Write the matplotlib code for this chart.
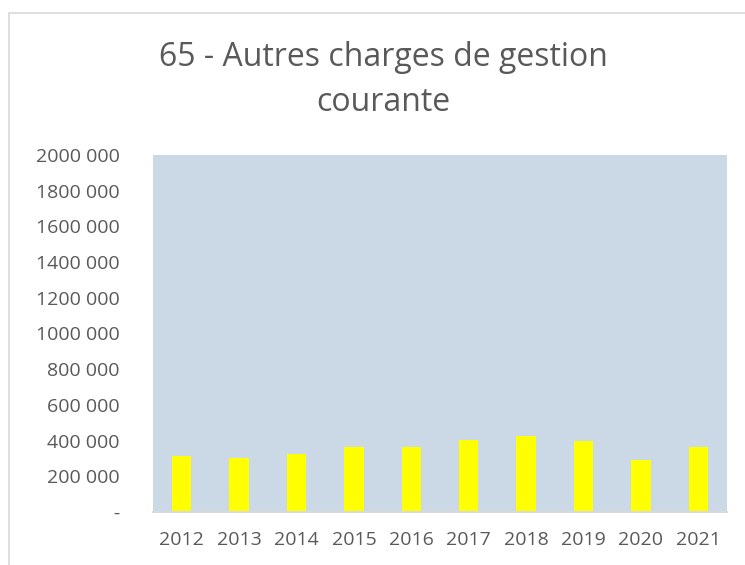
import matplotlib
matplotlib.use("Agg")
import matplotlib.pyplot as plt
from matplotlib.patches import Rectangle

plt.rcParams['font.family'] = ['Open Sans', 'DejaVu Sans']

# data
years = ['2012', '2013', '2014', '2015', '2016', '2017', '2018', '2019', '2020', '2021']
charges = [316000, 305000, 323000, 366000, 366000, 406000, 427000, 397000, 294000, 362000]
ytick_vals = list(range(0, 2000001, 200000))
ytick_labels = ['-', '200 000', '400 000', '600 000', '800 000', '1000 000',
                '1200 000', '1400 000', '1600 000', '1800 000', '2000 000']

W, H = 745, 565
fig = plt.figure(figsize=(W / 100, H / 100), dpi=100)

# outer chart border
fig.patches.append(Rectangle((9 / W, -0.1), 1.0, 1 - 13 / H + 0.1, transform=fig.transFigure,
                             fill=False, edgecolor='#D9D9D9', linewidth=1.2))

ax = fig.add_axes([153 / W, 1 - 512 / H, (727 - 153) / W, (512 - 155) / H])
ax.set_facecolor('#CBD9E6')

x = range(len(years))
ax.bar(x, charges, width=0.34, color='#FFFF00')

ax.set_xlim(-0.5, len(years) - 0.5)
ax.set_ylim(0, 2000000)
ax.set_xticks(list(x))
ax.set_xticklabels(years)
ax.set_yticks(ytick_vals)
ax.set_yticklabels(ytick_labels)
ax.tick_params(axis='both', length=0, labelsize=14, colors='#595959')
ax.tick_params(axis='x', pad=14)
ax.tick_params(axis='y', pad=24)

for s in ['top', 'right', 'left']:
    ax.spines[s].set_visible(False)
ax.spines['bottom'].set_color('#D9D9D9')
ax.spines['bottom'].set_linewidth(1.5)

fig.text(383 / W, 1 - 80 / H, '65 - Autres charges de gestion\ncourante', ha='center', va='center',
         fontsize=23, color='#595959', linespacing=1.45)

fig.savefig('out.png', dpi=100)
